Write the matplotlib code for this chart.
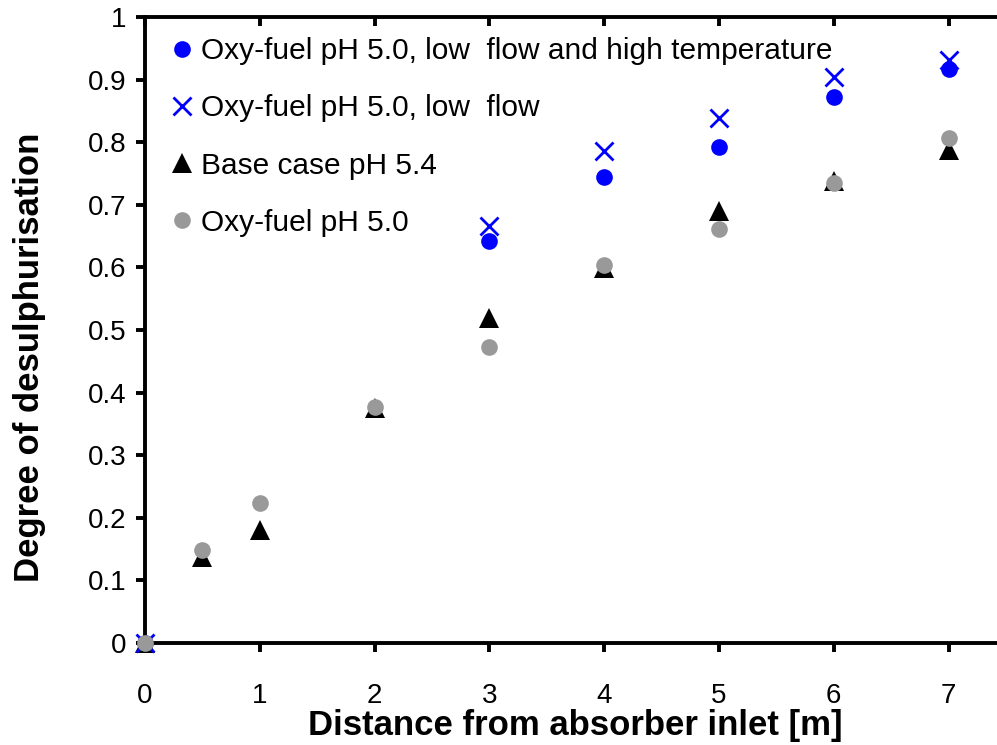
import numpy as np
import matplotlib.pyplot as plt

# distance along absorber [m]
x_blue = [0, 3, 4, 5, 6, 7]
x_all = [0, 0.5, 1, 2, 3, 4, 5, 6, 7]

# degree of desulphurisation
oxy_low_flow_high_temp = [0.0, 0.642, 0.744, 0.792, 0.872, 0.917]
oxy_low_flow = [0.0, 0.666, 0.786, 0.839, 0.904, 0.931]
base_case = [0.0, 0.137, 0.18, 0.375, 0.519, 0.599, 0.69, 0.738, 0.788]
oxy_fuel = [0.0, 0.149, 0.224, 0.377, 0.473, 0.604, 0.661, 0.735, 0.807]

x_ticks = [0, 1, 2, 3, 4, 5, 6, 7]
y_ticks = [0, 0.1, 0.2, 0.3, 0.4, 0.5, 0.6, 0.7, 0.8, 0.9, 1.0]
y_ticklabels = ['0', '0.1', '0.2', '0.3', '0.4', '0.5', '0.6', '0.7', '0.8', '0.9', '1']

plt.rcParams['font.family'] = ['Liberation Sans', 'DejaVu Sans']

W, H = 997, 745
fig = plt.figure(figsize=(W / 100, H / 100), dpi=100)
# axes runs past the right edge of the picture, like the original crop
ax = fig.add_axes([145 / W, (H - 643) / H, (1006 - 145) / W, (643 - 17) / H])

ax.plot(x_blue, oxy_low_flow_high_temp, 'o', color='#0000ff', ms=12, mew=0,
        label='Oxy-fuel pH 5.0, low  flow and high temperature', clip_on=False, zorder=3)
ax.plot(x_blue, oxy_low_flow, 'x', color='#0000ff', ms=13, mew=2,
        label='Oxy-fuel pH 5.0, low  flow', clip_on=False, zorder=4)
ax.plot(x_all, base_case, '^', color='black', ms=15, mew=0,
        label='Base case pH 5.4', clip_on=False, zorder=3)
ax.plot(x_all, oxy_fuel, 'o', color='#999999', ms=12, mew=0,
        label='Oxy-fuel pH 5.0', clip_on=False, zorder=5)

ax.set_xlim(0, 7.5)
ax.set_ylim(0, 1)
ax.set_xticks(x_ticks)
ax.set_yticks(y_ticks)
ax.set_yticklabels(y_ticklabels)

for s in ax.spines.values():
    s.set_linewidth(2.8)
ax.tick_params(axis='both', which='major', labelsize=20, width=2.8, length=6.5)
ax.tick_params(axis='x', pad=22)
ax.tick_params(axis='y', pad=7)
ax.tick_params(top=True, right=True, direction='out')
for t in ax.xaxis.get_major_ticks():
    t.tick2line.set_marker(3)  # inward on top
for t in ax.yaxis.get_major_ticks():
    t.tick2line.set_marker(0)

ax.set_xlabel('Distance from absorber inlet [m]', fontsize=25, fontweight='bold', labelpad=0)
ax.set_ylabel('Degree of desulphurisation', fontsize=25, fontweight='bold')
ax.yaxis.set_label_coords(-0.115, 0.457)

ax.legend(loc='upper left', bbox_to_anchor=(170 / W, 1 - 37 / H), bbox_transform=fig.transFigure,
          frameon=False, fontsize=21.5, handletextpad=0.25, labelspacing=0.98,
          handlelength=0.8, borderpad=0, borderaxespad=0)

fig.savefig('out.png', dpi=100)
